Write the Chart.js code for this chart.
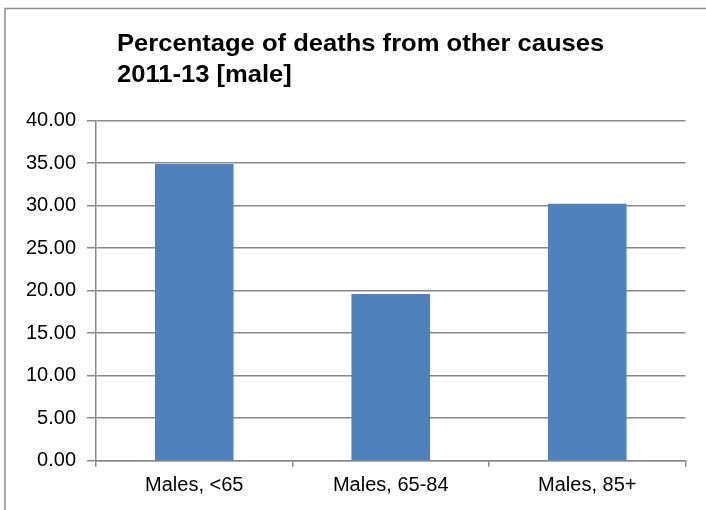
<!DOCTYPE html>
<html>
<head>
<meta charset="utf-8">
<script src="https://cdn.jsdelivr.net/npm/chart.js@4"></script>
<style>
  html, body { margin: 0; padding: 0; background: #ffffff; }
  #wrap { position: relative; width: 706px; height: 510px; }
</style>
</head>
<body>
<div id="wrap"><canvas id="c" width="706" height="510"></canvas></div>
<script>
// Chart data
const categories = ['Males, <65', 'Males, 65-84', 'Males, 85+'];
const percentages = [34.9, 19.6, 30.2];
const titleLines = ['Percentage of deaths from other causes', '2011-13 [male]'];

const AXIS_GREY = '#8a8a8a';
const FONT = "'Liberation Sans', Arial, sans-serif";

// Outer frame and two-line title (title set slightly wide)
const framePlugin = {
  id: 'frameAndTitle',
  beforeDraw(chart) {
    const ctx = chart.ctx;
    ctx.save();
    ctx.fillStyle = '#ffffff';
    ctx.fillRect(0, 0, chart.width, chart.height);
    ctx.strokeStyle = '#8c8c8c';
    ctx.lineWidth = 1.5;
    ctx.beginPath();
    ctx.moveTo(5, chart.height + 5);
    ctx.lineTo(5, 8.5);
    ctx.lineTo(chart.width + 5, 8.5);
    ctx.stroke();
    ctx.restore();
  },
  afterDraw(chart) {
    const ctx = chart.ctx;
    ctx.save();
    ctx.fillStyle = '#000000';
    ctx.font = "bold 24px " + FONT;
    ctx.textAlign = 'left';
    ctx.textBaseline = 'alphabetic';
    ctx.translate(117, 0);
    ctx.scale(1.065, 1);
    ctx.fillText(titleLines[0], 0, 51);
    ctx.fillText(titleLines[1], 0, 82);
    ctx.restore();
  }
};

new Chart(document.getElementById('c'), {
  type: 'bar',
  data: {
    labels: categories,
    datasets: [{
      data: percentages,
      backgroundColor: '#4f81bd',
      borderWidth: 0,
      barPercentage: 0.4,
      categoryPercentage: 1.0
    }]
  },
  options: {
    responsive: false,
    animation: false,
    devicePixelRatio: 1,
    layout: { padding: { top: 120.5, right: 20.5, bottom: 0, left: 0 } },
    plugins: {
      legend: { display: false },
      title: { display: false },
      tooltip: { enabled: false }
    },
    scales: {
      x: {
        offset: true,
        afterFit(scale) { scale.height = 49.3; },
        grid: {
          offset: true,
          drawOnChartArea: false,
          drawTicks: true,
          tickLength: 6,
          color: AXIS_GREY,
          lineWidth: 1.5
        },
        border: { display: true, color: AXIS_GREY, width: 1.5 },
        ticks: {
          color: '#000000',
          font: { family: FONT, size: 20 },
          padding: 7,
          maxRotation: 0
        }
      },
      y: {
        min: 0,
        max: 40,
        afterFit(scale) { scale.width = 96; },
        grid: {
          color: AXIS_GREY,
          lineWidth: 1.5,
          drawTicks: true,
          tickLength: 9
        },
        border: { display: true, color: AXIS_GREY, width: 1.5 },
        ticks: {
          stepSize: 5,
          color: '#000000',
          font: { family: FONT, size: 20 },
          padding: 11,
          callback: (v) => Number(v).toFixed(2)
        }
      }
    }
  },
  plugins: [framePlugin]
});
</script>
</body>
</html>
